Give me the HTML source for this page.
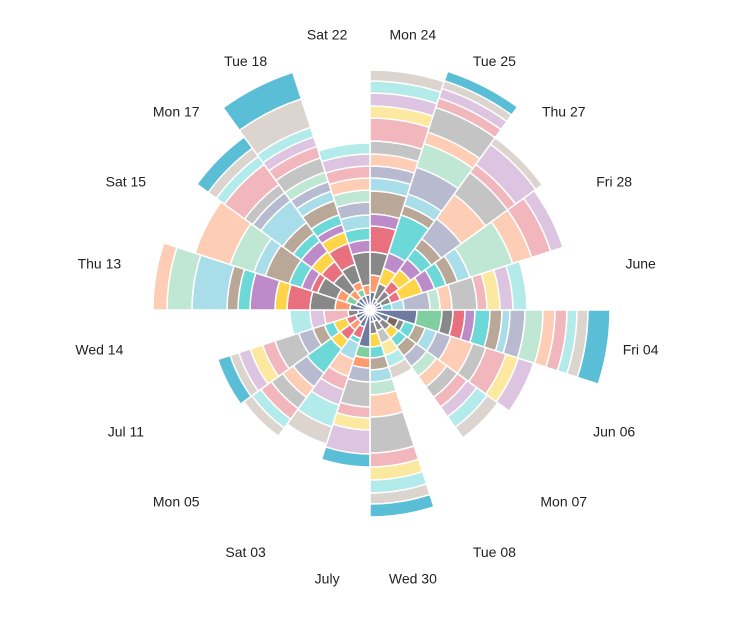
<!DOCTYPE html>
<html><head><meta charset="utf-8"><style>
html,body{margin:0;padding:0;background:#fff;}
svg{display:block;font-family:"Liberation Sans",sans-serif;}
</style></head><body>
<svg id="chart" width="751" height="624" viewBox="0 0 751 624"></svg>
<script>
const categories = ["Mon 24","Tue 25","Thu 27","Fri 28","June","Fri 04","Jun 06","Mon 07","Tue 08","Wed 30","July","Sat 03","Mon 05","Jul 11","Wed 14","Thu 13","Sat 15","Mon 17","Tue 18","Sat 22"];
const seriesNames = ["slate","brown","green","orange","gray","red","yellow","purple","teal","tan","light-blue","slate-lavender","mint","peach","silver","pink","pale-yellow","lavender","light-cyan","beige","blue"];
const seriesColors = ["#6f7aa0","#7b675d","#7fcfa0","#fe9a6c","#888888","#e8707f","#fed548","#be8bca","#6cd8d8","#b9a798","#a9dde9","#b8bbcf","#bfe7d3","#fecdb5","#c4c4c4","#f2b6bd","#fde8a0","#ddc4e1","#b3eaea","#dcd4ce","#5abed6"];
const sSlate = [18,12,0,12,12,47,20,15,12,12,37,18,15,15,12,20,15,15,15,15];
const sBrown = [0,0,10,0,0,0,10,0,0,0,0,0,0,0,0,0,0,0,0,0];
const sGreen = [0,0,0,0,0,25,0,0,0,0,11,0,0,0,0,0,10,0,7,0];
const sOrange = [17,0,0,0,0,0,0,0,0,0,10,0,10,0,0,15,10,10,8,10];
const sGray = [23,16,14,10,0,11,6,10,10,12,0,0,0,0,10,25,20,20,18,33];
const sRed = [26,0,12,10,0,12,0,0,0,0,0,12,12,10,0,23,7,15,22,0];
const sYellow = [0,16,14,23,0,0,0,10,0,13,0,0,11,13,0,12,0,12,12,0];
const sPurple = [12,16,13,13,0,10,0,0,0,0,0,0,0,0,0,25,10,13,8,12];
const sTeal = [0,40,13,12,10,15,11,10,0,11,0,5,30,10,0,12,13,10,10,12];
const sTan = [23,10,12,12,0,12,11,12,0,12,0,0,0,12,0,11,25,13,15,0];
const sLightBlue = [13,12,0,13,12,8,12,0,0,12,0,17,0,0,0,35,12,27,10,13];
const sSlateLav = [12,28,25,0,26,15,15,13,0,0,14,0,17,15,0,0,0,10,10,13];
const sMint = [0,25,0,45,10,18,0,12,0,13,0,0,0,0,0,25,25,0,10,12];
const sPeach = [12,12,30,20,12,12,23,13,0,22,0,18,13,0,0,14,37,0,0,12];
const sSilver = [13,26,27,0,25,0,14,13,13,36,25,0,14,25,0,0,0,10,15,0];
const sPink = [23,10,10,20,10,12,21,12,0,14,11,14,13,13,24,0,0,25,12,12];
const sPaleYellow = [12,0,0,0,13,0,13,0,13,13,12,0,0,13,0,0,0,0,0,0];
const sLavender = [13,10,25,13,13,0,16,12,0,0,24,16,0,12,14,0,0,0,10,12];
const sLightCyan = [12,0,0,0,14,10,0,13,12,13,0,23,11,0,20,0,0,10,10,11];
const sBeige = [11,8,8,0,0,11,0,13,12,11,0,18,10,9,0,0,0,10,30,0];
const sBlue = [0,10,0,0,0,22,0,0,0,13,13,0,0,13,0,0,0,14,28,0];
const seriesValues = [sSlate,sBrown,sGreen,sOrange,sGray,sRed,sYellow,sPurple,sTeal,sTan,sLightBlue,sSlateLav,sMint,sPeach,sSilver,sPink,sPaleYellow,sLavender,sLightCyan,sBeige,sBlue];

const NS = "http://www.w3.org/2000/svg";
const svg = document.getElementById("chart");
const CX = 370, CY = 310;
const rScale = v => v * 1.0;
const angleOf = i => (i * 360 / categories.length) * Math.PI / 180;
const step = 2 * Math.PI / categories.length;
function pt(r, a){ return [CX + r * Math.sin(a), CY - r * Math.cos(a)]; }
function sectorPath(r0, r1, a0, a1){
  const p1 = pt(r1, a0), p2 = pt(r1, a1), p3 = pt(r0, a1), p4 = pt(r0, a0);
  let d = `M${p1[0]},${p1[1]} A${r1},${r1} 0 0 1 ${p2[0]},${p2[1]} L${p3[0]},${p3[1]}`;
  if (r0 > 0) d += ` A${r0},${r0} 0 0 0 ${p4[0]},${p4[1]}`;
  return d + " Z";
}
const g = document.createElementNS(NS, "g");


svg.appendChild(g);
categories.forEach((cat, ci) => {
  let acc = 0;
  const a0 = angleOf(ci), a1 = a0 + step;
  seriesValues.forEach((vals, si) => {
    const v = vals[ci];
    if (!v) return;
    const r0 = rScale(acc), r1 = rScale(acc + v);
    acc += v;
    const p = document.createElementNS(NS, "path");
    p.setAttribute("d", sectorPath(r0, r1, a0, a1));
    p.setAttribute("fill", seriesColors[si]);
    p.setAttribute("stroke", "#fff");
    p.setAttribute("stroke-width", "1.5");
    
    
    g.appendChild(p);
  });
});
categories.forEach((cat, ci) => {
  const a = angleOf(ci) + step / 2;
  const [x, y] = pt(274, a);
  const t = document.createElementNS(NS, "text");
  t.setAttribute("x", x);
  t.setAttribute("y", y - 3.5 - 1.5 * Math.cos(a));
  t.setAttribute("text-anchor", "middle");
  t.setAttribute("dominant-baseline", "central");
  t.setAttribute("font-size", "14");
  t.setAttribute("fill", "#222");
  t.textContent = cat;
  
  
  svg.appendChild(t);
});
</script>
</body></html>
